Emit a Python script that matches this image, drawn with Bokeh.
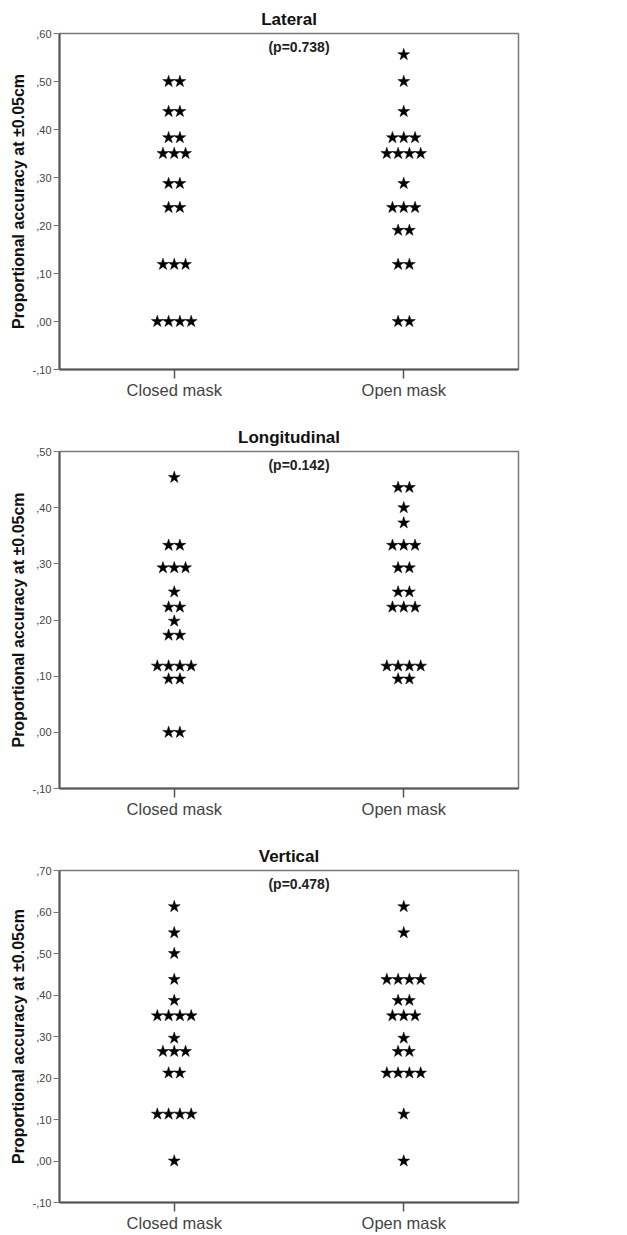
from bokeh.plotting import figure
from bokeh.layouts import column
from bokeh.models import Range1d, FixedTicker, Label, Title
from bokeh.embed import file_html
from bokeh.resources import INLINE

groups = ["Closed mask", "Open mask"]
y_label = "Proportional accuracy at \u00b10.05cm"

# ---- Lateral ----
lateral_title = "Lateral"
lateral_p = "(p=0.738)"
lateral_closed_values = [0.500, 0.4375, 0.383, 0.350, 0.2875, 0.2375, 0.119, 0.000]
lateral_closed_counts = [2, 2, 2, 3, 2, 2, 3, 4]
lateral_open_values = [0.556, 0.500, 0.4375, 0.383, 0.350, 0.2875, 0.2375, 0.190, 0.119, 0.000]
lateral_open_counts = [1, 1, 1, 3, 4, 1, 3, 2, 2, 2]
lateral_ticks = [-0.1, 0.0, 0.1, 0.2, 0.3, 0.4, 0.5, 0.6]
lateral_tick_labels = ["-,10", ",00", ",10", ",20", ",30", ",40", ",50", ",60"]

# ---- Longitudinal ----
longitudinal_title = "Longitudinal"
longitudinal_p = "(p=0.142)"
longitudinal_closed_values = [0.454, 0.333, 0.293, 0.250, 0.223, 0.198, 0.173, 0.118, 0.095, 0.000]
longitudinal_closed_counts = [1, 2, 3, 1, 2, 1, 2, 4, 2, 2]
longitudinal_open_values = [0.436, 0.400, 0.373, 0.333, 0.293, 0.250, 0.223, 0.118, 0.095]
longitudinal_open_counts = [2, 1, 1, 3, 2, 2, 3, 4, 2]
longitudinal_ticks = [-0.1, 0.0, 0.1, 0.2, 0.3, 0.4, 0.5]
longitudinal_tick_labels = ["-,10", ",00", ",10", ",20", ",30", ",40", ",50"]

# ---- Vertical ----
vertical_title = "Vertical"
vertical_p = "(p=0.478)"
vertical_closed_values = [0.613, 0.550, 0.500, 0.4375, 0.387, 0.350, 0.296, 0.264, 0.212, 0.113, 0.000]
vertical_closed_counts = [1, 1, 1, 1, 1, 4, 1, 3, 2, 4, 1]
vertical_open_values = [0.613, 0.550, 0.4375, 0.387, 0.350, 0.296, 0.264, 0.212, 0.113, 0.000]
vertical_open_counts = [1, 1, 4, 2, 3, 1, 2, 4, 1, 1]
vertical_ticks = [-0.1, 0.0, 0.1, 0.2, 0.3, 0.4, 0.5, 0.6, 0.7]
vertical_tick_labels = ["-,10", ",00", ",10", ",20", ",30", ",40", ",50", ",60", ",70"]

FONT = "Liberation Sans"
FRAME_W = 459
STAR_STEP_PX = 11.3


def star_positions(cat_index, values, counts):
    dx = STAR_STEP_PX * 2.0 / FRAME_W
    xs, ys = [], []
    for v, n in zip(values, counts):
        for k in range(n):
            xs.append(cat_index + (k - (n - 1) / 2.0) * dx)
            ys.append(v)
    return xs, ys


def make_panel(title, ptext, cv, cc, ov, oc, ticks, tick_labels, frame_h, b_top, b_bottom):
    p = figure(width=590, frame_width=FRAME_W, frame_height=frame_h,
               x_range=Range1d(0.5, 2.5), y_range=Range1d(ticks[0], ticks[-1]),
               output_backend="svg", toolbar_location=None,
               min_border_left=59, min_border_right=70,
               min_border_top=b_top, min_border_bottom=b_bottom)
    p.add_layout(Title(text=title, align="center", standoff=10,
                       text_font=FONT, text_font_size="17px", text_font_style="bold",
                       text_color="#111111"), "above")
    p.xgrid.visible = False
    p.ygrid.visible = False
    p.outline_line_color = "#7a7a7a"
    p.outline_line_width = 1.5
    p.background_fill_color = "white"
    p.border_fill_color = "white"

    xa = p.xaxis[0]
    xa.ticker = FixedTicker(ticks=[1, 2])
    xa.major_label_overrides = {1: groups[0], 2: groups[1]}
    xa.major_tick_out = 9
    xa.major_tick_in = 0
    xa.minor_tick_line_color = None
    xa.major_label_standoff = 2
    xa.major_label_text_font = FONT
    xa.major_label_text_font_size = "16.5px"
    xa.major_label_text_color = "#444444"
    xa.axis_line_color = "#555555"
    xa.axis_line_width = 2
    xa.major_tick_line_color = "#555555"
    xa.major_tick_line_width = 1.5

    ya = p.yaxis[0]
    ya.ticker = FixedTicker(ticks=ticks)
    ya.major_label_overrides = {t: l for t, l in zip(ticks, tick_labels)}
    ya.major_tick_out = 6
    ya.major_tick_in = 0
    ya.minor_tick_line_color = None
    ya.major_label_standoff = 2
    ya.major_label_text_font = FONT
    ya.major_label_text_font_size = "11px"
    ya.major_label_text_color = "#444444"
    ya.axis_line_color = "#555555"
    ya.axis_line_width = 2
    ya.major_tick_line_color = "#777777"
    ya.major_tick_line_width = 1
    ya.axis_label = y_label
    ya.axis_label_standoff = 3
    ya.axis_label_text_font = FONT
    ya.axis_label_text_font_size = "16px"
    ya.axis_label_text_font_style = "bold"
    ya.axis_label_text_color = "#111111"

    for idx, (vals, cnts) in enumerate([(cv, cc), (ov, oc)]):
        xs, ys = star_positions(idx + 1, vals, cnts)
        p.scatter(xs, ys, marker="star", size=12.5, fill_color="black",
                  line_color="black", line_width=0.5)

    # p-value inside the frame
    p.add_layout(Label(x=1.5, y=ticks[-1], x_offset=10, y_offset=-13,
                       text=ptext, text_align="center", text_baseline="middle",
                       text_font=FONT, text_font_size="14px", text_font_style="bold",
                       text_color="#222222"))
    return p


p1 = make_panel(lateral_title, lateral_p, lateral_closed_values, lateral_closed_counts,
                lateral_open_values, lateral_open_counts, lateral_ticks, lateral_tick_labels,
                336, 33, 51)
p2 = make_panel(longitudinal_title, longitudinal_p, longitudinal_closed_values, longitudinal_closed_counts,
                longitudinal_open_values, longitudinal_open_counts, longitudinal_ticks, longitudinal_tick_labels,
                337, 30, 51)
p3 = make_panel(vertical_title, vertical_p, vertical_closed_values, vertical_closed_counts,
                vertical_open_values, vertical_open_counts, vertical_ticks, vertical_tick_labels,
                332, 30, 31)

layout = column(p1, p2, p3, spacing=0)
open("out.html", "w").write(file_html(layout, INLINE))
